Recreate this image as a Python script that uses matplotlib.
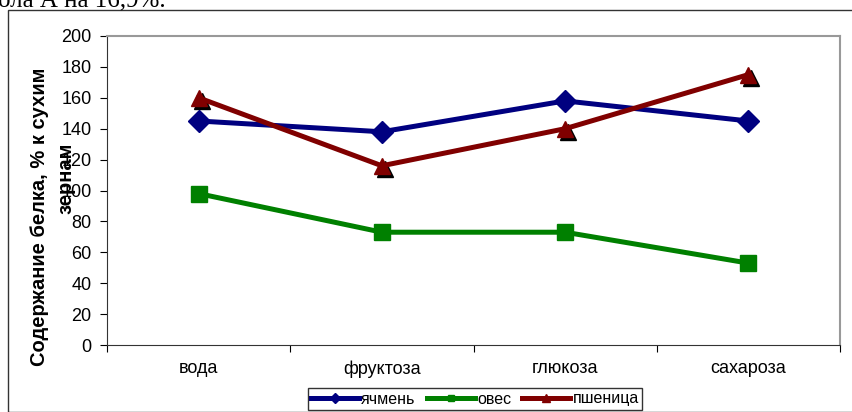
import matplotlib.pyplot as plt
from matplotlib.patches import Rectangle
from matplotlib.transforms import offset_copy

plt.rcParams['font.family'] = ['Liberation Sans', 'DejaVu Sans']

categories = ["вода", "фруктоза", "глюкоза", "сахароза"]
barley = [145, 138, 158, 145]
oats = [98, 73, 73, 53]
wheat = [160, 116, 140, 175]
y_ticks = list(range(0, 201, 20))

W, H = 852, 412
fig = plt.figure(figsize=(W / 100, H / 100), dpi=100)

# outer chart frame (runs off the right and bottom edges)
fig.patches.append(Rectangle((8 / W, 0), 1.0, (H - 9.5) / H,
                             transform=fig.transFigure, fill=False,
                             edgecolor="#333333", linewidth=1.0))
# tail of the paragraph above the chart
fig.text(166 / W, (H - 6) / H, "ола А на 16,9%.", ha="right", va="baseline",
         fontsize=18, family=["Liberation Serif", "DejaVu Serif"])

ax = fig.add_axes([107 / W, (H - 345) / H, 733 / W, 309 / H])
x = [i + 0.5 for i in range(len(categories))]

ax.plot(x, barley, color="#000080", lw=3.6, marker="D", ms=11,
        label="ячмень", zorder=4)
ax.plot(x, oats, color="#008000", lw=3.6, marker="s", ms=11,
        label="овес", zorder=4)
# wheat triangles get a small black drop shadow
shadow = offset_copy(ax.transData, fig=fig, x=3, y=-3, units="dots")
ax.plot(x, wheat, ls="none", marker="^", ms=12, color="black",
        transform=shadow, zorder=3)
ax.plot(x, wheat, color="#800000", lw=3.6, marker="^", ms=12,
        label="пшеница", zorder=5)

ax.set_xlim(0, len(categories))
ax.set_ylim(0, 200)
ax.set_yticks(y_ticks)
ax.set_xticks(range(len(categories) + 1))
ax.set_xticklabels([])
ax.set_xticks(x, minor=True)
ax.set_xticklabels(categories, minor=True)
ax.tick_params(axis="x", which="minor", length=0, pad=11, labelsize=13)
ax.tick_params(axis="x", which="major", length=5, direction="out")
ax.tick_params(axis="y", length=5, direction="out", pad=6, labelsize=13)

for side in ("top", "right"):
    ax.spines[side].set_color("#999999")
    ax.spines[side].set_linewidth(1.5)
for side in ("left", "bottom"):
    ax.spines[side].set_color("#333333")

fig.text(40 / W, (H - 217) / H, "Содержание белка, % к сухим", rotation=90,
         ha="center", va="center", fontsize=14.5, fontweight="bold")
fig.text(66 / W, (H - 178) / H, "зернам", rotation=90,
         ha="center", va="center", fontsize=14.5, fontweight="bold")

leg = ax.legend(loc="center", bbox_to_anchor=(475 / W, (H - 399) / H),
                bbox_transform=fig.transFigure, ncol=3, fontsize=11.5,
                frameon=True, fancybox=False, edgecolor="black",
                handlelength=3, handletextpad=0.15, columnspacing=0.7,
                borderpad=0.2, markerscale=0.45)
leg.get_frame().set_linewidth(1.0)

fig.savefig("out.png", dpi=100)
